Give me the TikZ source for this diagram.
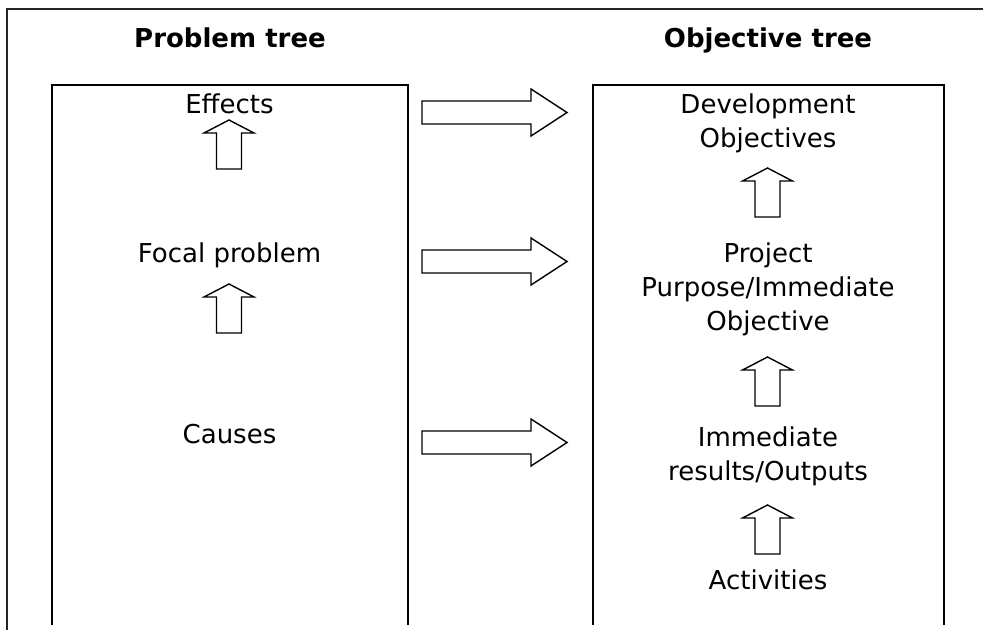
\documentclass[tikz,border=0pt]{standalone}
\usepackage{fontspec}
\setmainfont{DejaVu Sans}
\begin{document}
\begin{tikzpicture}[x=1pt,y=-1pt,
  frame/.style={line width=2pt,black!85},
  treebox/.style={line width=2pt,black},
  blockarrow/.style={draw=black,line width=1.4pt,fill=white,line join=miter},
  title/.style={anchor=base,font=\fontsize{26}{34}\selectfont\bfseries},
  label/.style={anchor=base,align=center,font=\fontsize{26}{34}\selectfont},
  rarrow/.pic={\path[blockarrow] (0,-11.5) -- (109,-11.5) -- (109,-23.5) -- (145,0)
      -- (109,23.5) -- (109,11.5) -- (0,11.5) -- cycle;},
  uarrow/.pic={\path[blockarrow] (0,0) -- (25,13) -- (12.5,13) -- (12.5,49)
      -- (-12.5,49) -- (-12.5,13) -- (-25,13) -- cycle;}]
\useasboundingbox (0,0) rectangle (983,630);
% outer frame: left and top sides
\draw[frame] (7,630) -- (7,9) -- (983,9);
% the two tree boxes, open at the bottom
\coordinate (pbl) at (52,625);
\coordinate (pbr) at (408,625);
\coordinate (obl) at (593,625);
\coordinate (obr) at (944,625);
\draw[treebox] (pbl) -- (52,85) -- (408,85) -- (pbr);
\draw[treebox] (obl) -- (593,85) -- (944,85) -- (obr);
% titles
\node[title] (pt) at (230,47) {Problem tree};
\node[title] (ot) at (768,47) {Objective tree};
% problem tree
\node[label] (eff) at (229.5,113) {Effects};
\node[label] (foc) at (229.5,262) {Focal problem};
\node[label] (cau) at (229.5,443) {Causes};
\pic at (229,120) {uarrow};
\pic at (229,284) {uarrow};
% objective tree (anchor base sits on the last line)
\node[label] (dev) at (768,147) {Development\\Objectives};
\node[label] (pur) at (768,330) {Project\\Purpose/Immediate\\Objective};
\node[label] (res) at (768,480) {Immediate\\results/Outputs};
\node[label] (act) at (768,589) {Activities};
\pic at (767.5,168) {uarrow};
\pic at (767.5,357) {uarrow};
\pic at (767.5,505) {uarrow};
% transformation arrows between the trees
\pic at (422,112.5) {rarrow};
\pic at (422,261.5) {rarrow};
\pic at (422,442.5) {rarrow};
\end{tikzpicture}
\end{document}
